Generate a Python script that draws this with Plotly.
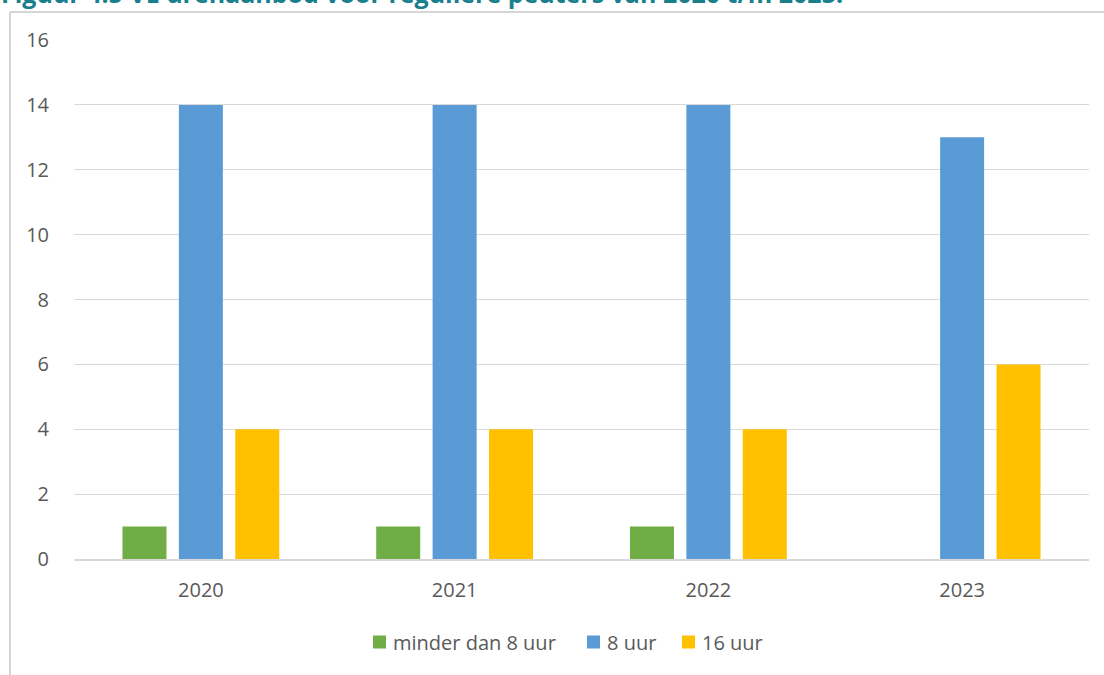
import plotly.graph_objects as go

years = ["2020", "2021", "2022", "2023"]
minder_dan_8 = [1, 1, 1, None]
uur_8 = [14, 14, 14, 13]
uur_16 = [4, 4, 4, 6]
series_names = ["minder dan 8 uur", "8 uur", "16 uur"]
colors = ["#70ad47", "#5b9bd5", "#ffc000"]
title_text = "Figuur 4.5 VE urenaanbod voor reguliere peuters van 2020 t/m 2023."

fig = go.Figure()
for name, vals, col in zip(series_names, [minder_dan_8, uur_8, uur_16], colors):
    fig.add_trace(go.Bar(x=years, y=vals, name=name, showlegend=False,
                         marker=dict(color=col, line=dict(width=0))))

W, H = 1104, 675
L, R, T, B = 74, 15, 40, 116
pw, ph = W - L - R, H - T - B


def px_x(x):
    return (x - L) / pw


def px_y(y):
    return (H - B - y) / ph


# manual legend (square + label), positions in page pixels
legend_sq_x = [373, 587, 682]
legend_y = 642
shapes = [
    dict(type="line", xref="paper", yref="paper", x0=px_x(10), x1=px_x(1110), y0=px_y(12), y1=px_y(12),
         line=dict(color="#d6d6d6", width=2)),
    dict(type="line", xref="paper", yref="paper", x0=px_x(10), x1=px_x(10), y0=px_y(12), y1=px_y(690),
         line=dict(color="#d6d6d6", width=2)),
]
annotations = [
    dict(text="<b>" + title_text + "</b>", xref="paper", yref="paper", x=px_x(-1), y=px_y(12),
         xanchor="left", yanchor="bottom", showarrow=False,
         font=dict(family="Open Sans, sans-serif", size=25, color="#1a7f8c")),
]
for sx, name, col in zip(legend_sq_x, series_names, colors):
    shapes.append(dict(type="rect", xref="paper", yref="paper",
                       x0=px_x(sx), x1=px_x(sx + 13), y0=px_y(legend_y - 6.5), y1=px_y(legend_y + 6.5),
                       fillcolor=col, line=dict(width=0)))
    annotations.append(dict(text=name, xref="paper", yref="paper", x=px_x(sx + 18), y=px_y(legend_y),
                            xanchor="left", yanchor="middle", showarrow=False,
                            font=dict(family="Open Sans, sans-serif", size=20, color="#595959")))

fig.update_layout(
    width=W, height=H,
    margin=dict(l=L, r=R, t=T, b=B),
    paper_bgcolor="white", plot_bgcolor="white",
    barmode="group", bargap=0.333, bargroupgap=0.22,
    font=dict(family="Open Sans, sans-serif", color="#595959", size=20),
    showlegend=False,
    xaxis=dict(showgrid=False, showline=True, linecolor="#d9d9d9", linewidth=1.5,
               ticks="", ticklabelstandoff=12, tickfont=dict(size=20, color="#595959")),
    yaxis=dict(range=[0, 16], dtick=2, showgrid=True, gridcolor="#d9d9d9", gridwidth=1,
               zeroline=False, showline=False, ticks="", ticklabelstandoff=24,
               tickfont=dict(size=20, color="#595959")),
    shapes=shapes,
    annotations=annotations,
)

fig.write_html("out.html", config={"displayModeBar": False},
               post_script="document.body.style.margin='0px';")
